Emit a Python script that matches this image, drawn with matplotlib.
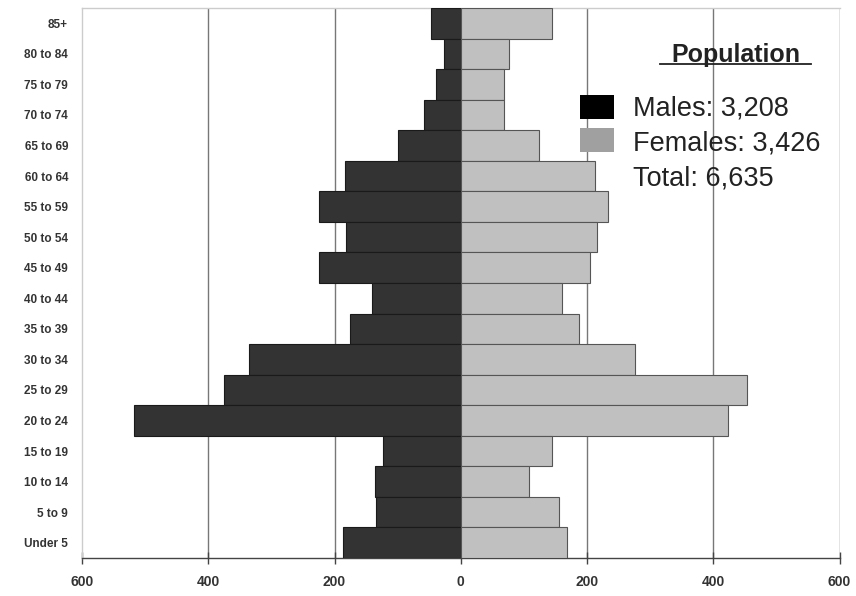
import matplotlib
matplotlib.use("Agg")
import matplotlib.pyplot as plt
from matplotlib.patches import Rectangle
import numpy as np

plt.rcParams['font.family'] = ['Liberation Sans', 'DejaVu Sans']

# Age groups, top to bottom
age_groups = ["85+", "80 to 84", "75 to 79", "70 to 74", "65 to 69", "60 to 64",
              "55 to 59", "50 to 54", "45 to 49", "40 to 44", "35 to 39", "30 to 34",
              "25 to 29", "20 to 24", "15 to 19", "10 to 14", "5 to 9", "Under 5"]
males = [47, 27, 39, 58, 99, 183, 225, 182, 224, 140, 176, 335,
         375, 518, 123, 136, 135, 186]
females = [145, 77, 68, 68, 124, 213, 233, 216, 204, 161, 187, 276,
           453, 424, 144, 108, 156, 169]
x_ticks = [-600, -400, -200, 0, 200, 400, 600]
x_tick_labels = ["600", "400", "200", "0", "200", "400", "600"]
legend_title = "Population"
legend_lines = ["Males: 3,208", "Females: 3,426", "Total: 6,635"]

fig = plt.figure(figsize=(8.56, 5.96), dpi=100)
ax = fig.add_axes([0.0958, 0.0638, 0.885, 0.9228])

y = np.arange(len(age_groups))[::-1]
ax.barh(y, [-m for m in males], height=1.0, color="#333333",
        edgecolor="#1a1a1a", linewidth=0.8, zorder=3)
ax.barh(y, females, height=1.0, color="#c0c0c0",
        edgecolor="#555555", linewidth=0.8, zorder=3)

ax.set_xlim(-600, 600)
ax.set_ylim(-0.5, len(age_groups) - 0.5)
ax.set_xticks(x_ticks)
ax.set_xticklabels(x_tick_labels, fontsize=10, fontweight="bold", color="#333333")
ax.set_yticks(y)
ax.set_yticklabels(age_groups, fontsize=8.5, fontweight="bold", color="#333333")

for xv in x_ticks[1:]:
    ax.axvline(xv, color="#777777", linewidth=1.0, zorder=1)

for side in ["top", "left", "right"]:
    ax.spines[side].set_color("#cccccc")
    ax.spines[side].set_linewidth(1.0)
ax.spines["right"].set_visible(False)
ax.spines["bottom"].set_color("#444444")
ax.spines["bottom"].set_linewidth(1.0)
ax.tick_params(axis="x", direction="inout", length=8, width=1.0, color="#444444", pad=8)
ax.tick_params(axis="y", length=0, pad=10)

# Summary box
fig.text(0.860, 0.908, legend_title, fontsize=18, fontweight="bold",
         color="#222222", ha="center", va="center")
fig.add_artist(plt.Line2D([0.771, 0.948], [0.893, 0.893], color="#222222",
                          linewidth=1.3, transform=fig.transFigure))
fig.add_artist(Rectangle((0.678, 0.800), 0.039, 0.041, facecolor="black",
                         edgecolor="none", transform=fig.transFigure))
fig.add_artist(Rectangle((0.678, 0.745), 0.039, 0.040, facecolor="#a0a0a0",
                         edgecolor="none", transform=fig.transFigure))
for i, line in enumerate(legend_lines):
    fig.text(0.739, 0.818 - i * 0.0585, line, fontsize=19.5, color="#222222",
             ha="left", va="center")

fig.savefig("out.png", dpi=100)
